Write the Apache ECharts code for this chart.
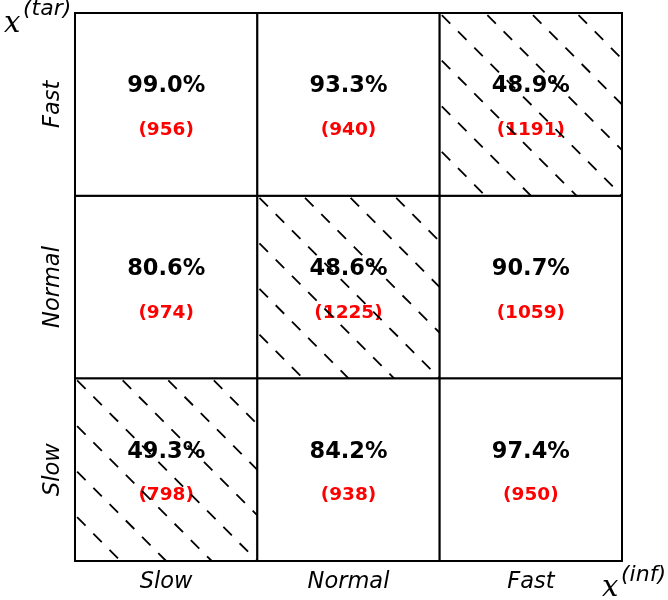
<!DOCTYPE html>
<html>
<head>
<meta charset="utf-8">
<script src="https://cdn.jsdelivr.net/npm/echarts@6/dist/echarts.min.js"></script>
<style>html,body{margin:0;padding:0;background:#fff}#c{width:668px;height:600px}</style>
</head>
<body>
<div id="c"></div>
<script>
const infCategories = ['Slow', 'Normal', 'Fast'];
const tarCategories = ['Slow', 'Normal', 'Fast'];
// rows indexed by tar (Slow, Normal, Fast), columns by inf (Slow, Normal, Fast)
const accuracy = [
  [49.3, 84.2, 97.4],
  [80.6, 48.6, 90.7],
  [99.0, 93.3, 48.9]
];
const counts = [
  [798, 938, 950],
  [974, 1225, 1059],
  [956, 940, 1191]
];

const cells = [];
for (let t = 0; t < tarCategories.length; t++) {
  for (let i = 0; i < infCategories.length; i++) {
    cells.push([i, t, accuracy[t][i], counts[t][i], i === t ? 1 : 0]);
  }
}

const chart = echarts.init(document.getElementById('c'));
const FONT = 'DejaVu Sans';

function txt(str, x, y, size, family) {
  return { type: 'text', x: x, y: y, style: {
    text: str, fontFamily: family || FONT, fontStyle: 'italic', fontSize: size, fill: '#000',
    align: 'left', verticalAlign: 'middle' } };
}

chart.setOption({
  animation: false,
  backgroundColor: '#fff',
  grid: { left: 75, top: 13, right: 46, bottom: 39 },
  xAxis: {
    type: 'category', data: infCategories,
    axisLine: { show: false }, axisTick: { show: false }, splitLine: { show: false },
    axisLabel: { fontFamily: FONT, fontStyle: 'italic', fontSize: 22.5, color: '#000', margin: 10 }
  },
  yAxis: {
    type: 'category', data: tarCategories,
    axisLine: { show: false }, axisTick: { show: false }, splitLine: { show: false },
    axisLabel: { fontFamily: FONT, fontStyle: 'italic', fontSize: 22.5, color: '#000', rotate: 90, margin: 10 }
  },
  graphic: [
    txt('x', 4, 24, 29, 'DejaVu Serif'),
    txt('(tar)', 23, 9, 22),
    txt('x', 602, 588, 29, 'DejaVu Serif'),
    txt('(inf)', 621, 575, 22)
  ],
  series: [{
    type: 'custom',
    data: cells,
    renderItem: function (params, api) {
      const c = api.coord([api.value(0), api.value(1)]);
      const sz = api.size([1, 1]);
      const w = sz[0], h = sz[1];
      const x0 = c[0] - w / 2, y0 = c[1] - h / 2;
      const children = [
        { type: 'rect', shape: { x: x0, y: y0, width: w, height: h },
          style: { fill: '#fff', stroke: '#000', lineWidth: 2 }, z2: 1 },
        { type: 'text', x: c[0], y: c[1] - 18, z2: 2,
          style: { text: api.value(2).toFixed(1) + '%', fontFamily: FONT, fontWeight: 'bold', fontSize: 22.5,
                   fill: '#000', align: 'center', verticalAlign: 'middle' } },
        { type: 'text', x: c[0], y: c[1] + 26, z2: 2,
          style: { text: '(' + api.value(3) + ')', fontFamily: FONT, fontWeight: 'bold', fontSize: 18.5,
                   fill: '#ff0000', align: 'center', verticalAlign: 'middle' } }
      ];
      if (api.value(4)) {
        const step = w / 4;
        for (let k = -3; k <= 3; k++) {
          const d = k * step;
          let a, b;
          if (d >= 0) { a = [x0, y0 + d]; b = [x0 + w - d, y0 + h]; }
          else { a = [x0 - d, y0]; b = [x0 + w, y0 + h + d]; }
          children.push({ type: 'line', z2: 3,
            shape: { x1: a[0], y1: a[1], x2: b[0], y2: b[1] },
            style: { stroke: '#000', lineWidth: 1.8, lineDash: [12, 11], lineDashOffset: -3 } });
        }
      }
      return { type: 'group', children: children };
    }
  }]
});
</script>
</body>
</html>
